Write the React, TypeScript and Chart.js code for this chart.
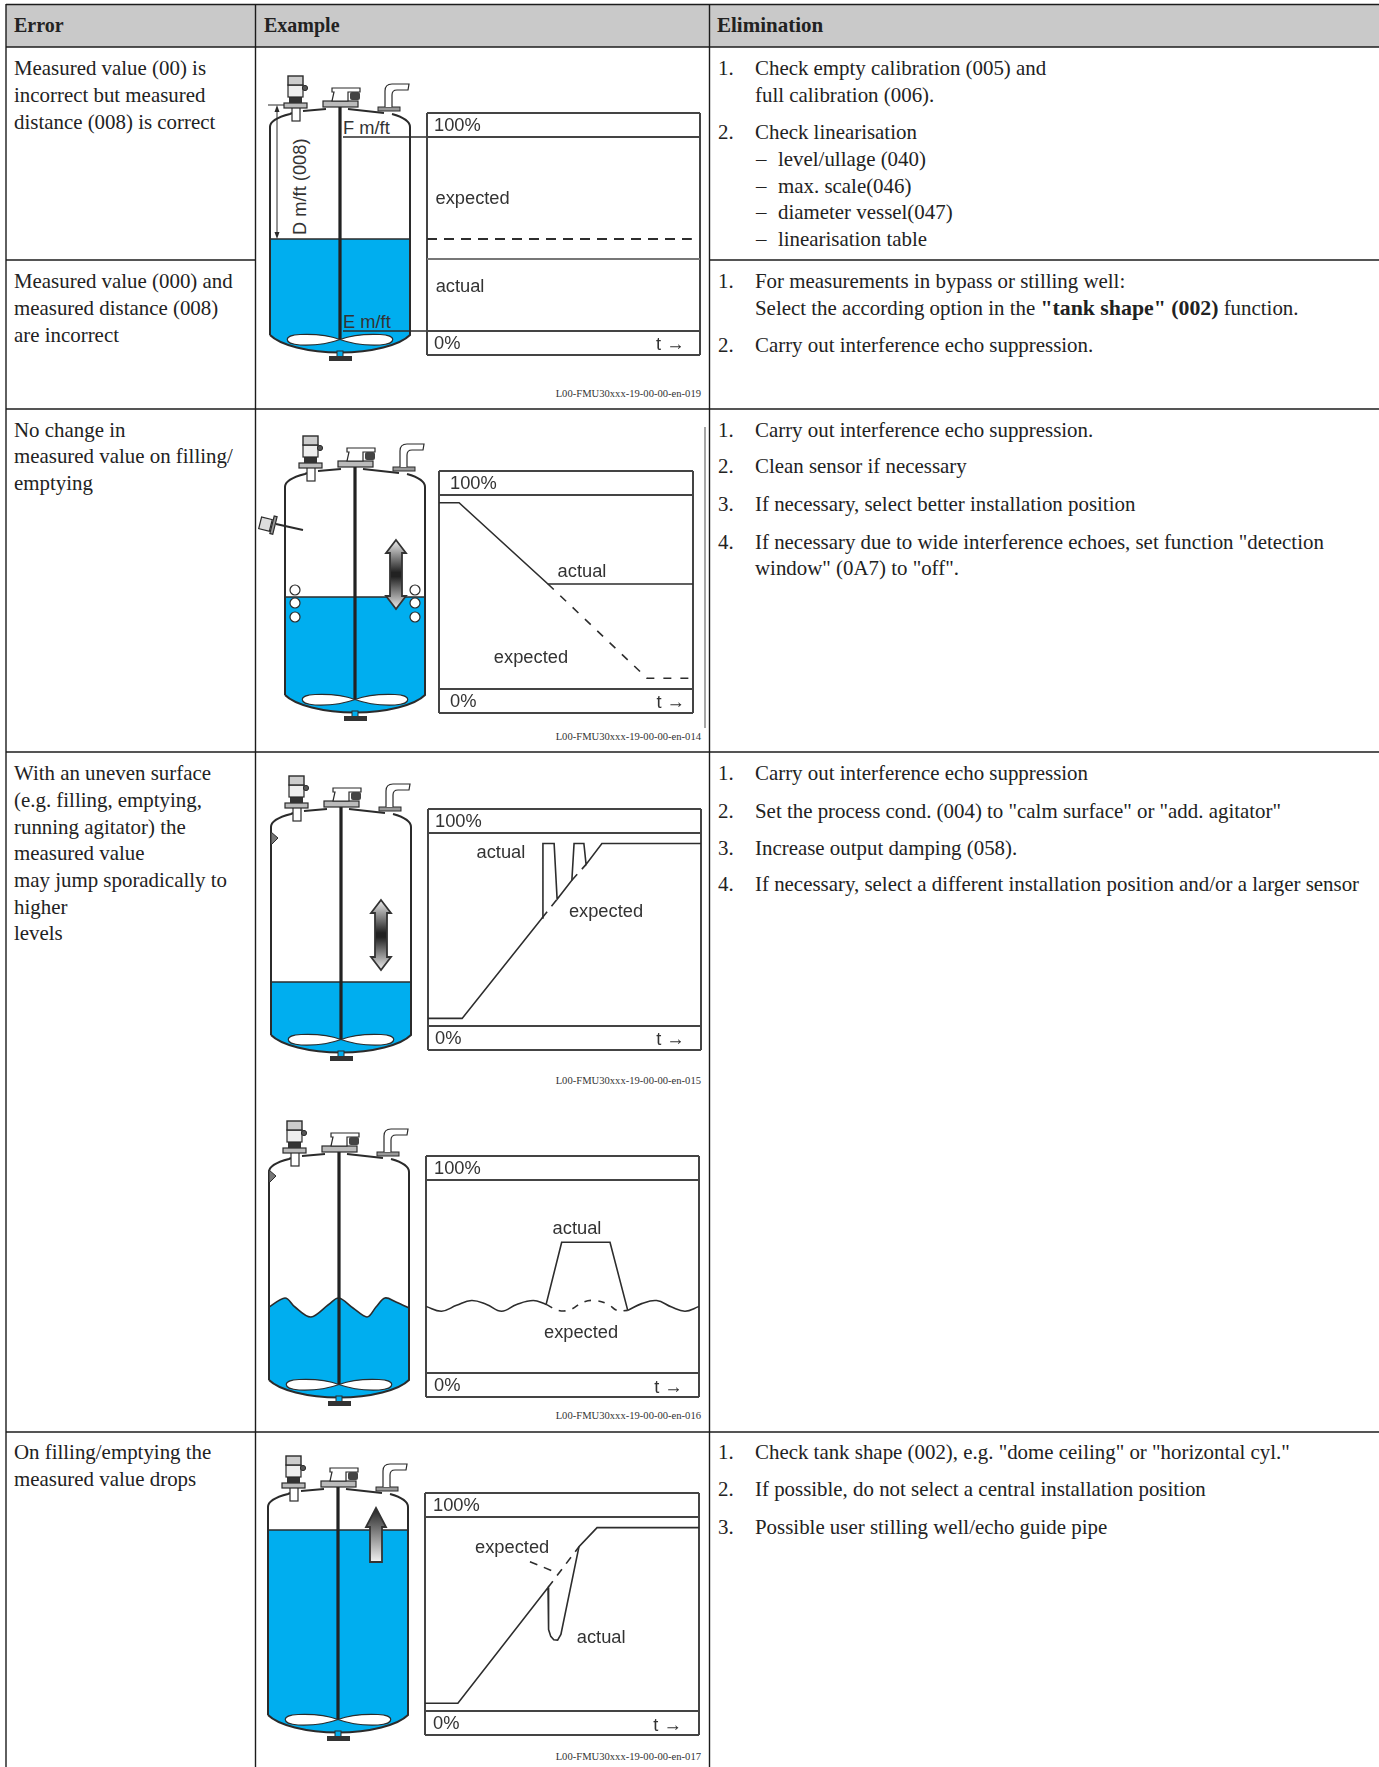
import React, { useEffect, useRef } from "react";
import { Chart, registerables } from "chart.js";

Chart.register(...registerables);

// ---------- chart values (x = % of elapsed time across the plot, y = % level) ----------
const c1Expected = [{ x: 0, y: 47.4 }, { x: 97, y: 47.4 }];
const c1Actual = [{ x: 0, y: 37.1 }, { x: 100, y: 37.1 }];

const c2Actual = [{ x: 0, y: 95.9 }, { x: 7.9, y: 95.9 }, { x: 42.9, y: 54.1 }, { x: 100, y: 54.1 }];
const c2Expected = [{ x: 42.9, y: 54.1 }, { x: 81.9, y: 5.7 }, { x: 84, y: 5.7 }, { x: 100, y: 5.7 }];

const c3Actual = [
  { x: 0, y: 4.1 }, { x: 12.5, y: 4.1 }, { x: 41.8, y: 55.9 }, { x: 42.1, y: 94.4 }, { x: 46.2, y: 94.4 },
  { x: 47.3, y: 65.6 }, { x: 52.7, y: 75.4 }, { x: 53.5, y: 94.4 }, { x: 57.1, y: 94.4 }, { x: 57.9, y: 83.6 },
  { x: 63.7, y: 94.4 }, { x: 100, y: 94.4 },
];
const c3ExpectedA = [{ x: 41.8, y: 55.9 }, { x: 47.3, y: 65.6 }];
const c3ExpectedB = [{ x: 52.7, y: 75.4 }, { x: 57.9, y: 83.6 }];

const c4WaveLeft = [
  { x: 0, y: 34.5 }, { x: 5.7, y: 32.1 }, { x: 11.2, y: 35.1 }, { x: 16.7, y: 37.6 }, { x: 22.2, y: 35.6 },
  { x: 27.7, y: 32.1 }, { x: 33.2, y: 35.6 }, { x: 39.3, y: 37.6 }, { x: 44, y: 35.6 },
];
const c4Spike = [{ x: 44, y: 35.6 }, { x: 49.7, y: 67.7 }, { x: 67.4, y: 67.7 }, { x: 73.9, y: 32.5 }];
const c4WaveRight = [
  { x: 73.9, y: 32.5 }, { x: 79, y: 36 }, { x: 84.5, y: 37.6 }, { x: 90, y: 34.2 }, { x: 94.9, y: 32.1 }, { x: 100, y: 34.5 },
];
const c4Expected = [
  { x: 44, y: 35.6 }, { x: 48.5, y: 32.5 }, { x: 52.7, y: 32.8 }, { x: 57.6, y: 36.8 }, { x: 61.9, y: 37.6 },
  { x: 66.8, y: 35.6 }, { x: 69.9, y: 32.5 }, { x: 73.9, y: 32.5 },
];

const c5Actual = [
  { x: 0, y: 4.1 }, { x: 12, y: 4.1 }, { x: 44.9, y: 63.6 }, { x: 45.1, y: 42 }, { x: 45.9, y: 38.5 }, { x: 47, y: 36.8 },
  { x: 48.4, y: 36.6 }, { x: 49.6, y: 39.5 }, { x: 56.2, y: 84.6 }, { x: 62.8, y: 94.4 }, { x: 100, y: 94.4 },
];
const c5Expected = [{ x: 44.9, y: 63.6 }, { x: 56.2, y: 84.6 }];
const c5Pointer = [{ x: 38.3, y: 76.9 }, { x: 47.1, y: 71.8 }];

const TOP_LABEL = "100%";
const BOTTOM_LABEL = "0%";
const TIME_LABEL = "t →";

// ---------- table text ----------
const headers = ["Error", "Example", "Elimination"];
const errorLines = [
  ["Measured value (00) is", 68], ["incorrect but measured", 95], ["distance (008) is correct", 122],
  ["Measured value (000) and", 281], ["measured distance (008)", 308], ["are incorrect", 335],
  ["No change in", 430], ["measured value on filling/", 456], ["emptying", 483],
  ["With an uneven surface", 773], ["(e.g. filling, emptying,", 800], ["running agitator) the", 827],
  ["measured value", 853], ["may jump sporadically to", 880], ["higher", 907], ["levels", 933],
  ["On filling/emptying the", 1452], ["measured value drops", 1479],
] as [string, number][];
const fixNumbers = [
  ["1.", 68], ["2.", 132], ["1.", 281], ["2.", 345], ["1.", 430], ["2.", 466], ["3.", 504], ["4.", 542],
  ["1.", 773], ["2.", 811], ["3.", 848], ["4.", 884], ["1.", 1452], ["2.", 1489], ["3.", 1527],
] as [string, number][];
const fixLines = [
  ["Check empty calibration (005) and", 68], ["full calibration (006).", 95], ["Check linearisation", 132],
  ["For measurements in bypass or stilling well:", 281],
  ['Select the according option in the **"tank shape" (002)** function.', 308],
  ["Carry out interference echo suppression.", 345],
  ["Carry out interference echo suppression.", 430], ["Clean sensor if necessary", 466],
  ["If necessary, select better installation position", 504],
  ['If necessary due to wide interference echoes, set function "detection', 542],
  ['window" (0A7) to "off".', 568],
  ["Carry out interference echo suppression", 773],
  ['Set the process cond. (004) to "calm surface" or "add. agitator"', 811],
  ["Increase output damping (058).", 848],
  ["If necessary, select a different installation position and/or a larger sensor", 884],
  ['Check tank shape (002), e.g. "dome ceiling" or "horizontal cyl."', 1452],
  ["If possible, do not select a central installation position", 1489],
  ["Possible user stilling well/echo guide pipe", 1527],
] as [string, number][];
const subItems = [
  ["level/ullage (040)", 159], ["max. scale(046)", 186], ["diameter vessel(047)", 212], ["linearisation table", 239],
] as [string, number][];
const captions = [
  ["L00-FMU30xxx-19-00-00-en-019", 394], ["L00-FMU30xxx-19-00-00-en-014", 737], ["L00-FMU30xxx-19-00-00-en-015", 1081],
  ["L00-FMU30xxx-19-00-00-en-016", 1416], ["L00-FMU30xxx-19-00-00-en-017", 1757],
] as [string, number][];

// ---------- look ----------
const INK = "#2b2b2b";
const BOX = "#444444";
const SERIF = '"Liberation Serif", serif';
const SANS = '"Liberation Sans", sans-serif';
const BLUE = "#00AEEF";
const BAND = 12.2;
const PLOT_FONT = 18.3;
const TOP_TICK = 100 + BAND / 2 - 0.8;
const BOTTOM_TICK = -BAND / 2 - 0.6;

const inlineLabels = {
  id: "inlineLabels",
  afterDatasetsDraw(chart: any, _a: any, opts: any) {
    const { ctx, scales } = chart;
    ctx.save();
    ctx.fillStyle = "#333";
    ctx.font = `${PLOT_FONT}px ${SANS}`;
    ctx.textAlign = "center";
    ctx.textBaseline = "middle";
    for (const it of opts.items || []) ctx.fillText(it.text, scales.x.getPixelForValue(it.x), scales.y.getPixelForValue(it.y) + 1.3);
    ctx.restore();
  },
};

const solid = (data: any[], extra: any = {}) => ({ data, borderColor: "#2d2d2d", borderWidth: 1.6, pointRadius: 0, tension: 0, ...extra });
const dashed = (data: any[], extra: any = {}) => solid(data, { borderDash: [8, 7], ...extra });

function Plot({ x, y, w, h, pad = 8, datasets, labels }: any) {
  const ref = useRef<HTMLCanvasElement>(null);
  useEffect(() => {
    const chart = new Chart(ref.current as HTMLCanvasElement, {
      type: "line",
      data: { datasets },
      plugins: [inlineLabels],
      options: {
        animation: false,
        responsive: false,
        parsing: false as any,
        normalized: true,
        layout: { padding: 2 },
        plugins: { legend: { display: false }, tooltip: { enabled: false }, inlineLabels: { items: labels } } as any,
        scales: {
          x: {
            type: "linear", min: 0, max: 100,
            afterBuildTicks: (s: any) => { s.ticks = [{ value: 0 }, { value: 100 }]; },
            afterFit: (s: any) => { s.height = 0; s.paddingLeft = 0; s.paddingRight = 0; s.paddingTop = 0; s.paddingBottom = 0; },
            ticks: { display: false },
            grid: { color: BOX, lineWidth: 2, drawTicks: false },
            border: { display: false },
          },
          y: {
            type: "linear", min: -BAND, max: 100 + BAND,
            afterBuildTicks: (s: any) => {
              s.ticks = [-BAND, BOTTOM_TICK, 0, 100, TOP_TICK, 100 + BAND].map((value) => ({ value }));
            },
            afterFit: (s: any) => { s.width = 0; s.paddingTop = 0; s.paddingBottom = 0; s.paddingLeft = 0; s.paddingRight = 0; },
            ticks: {
              mirror: true, padding: pad, autoSkip: false, color: "#333",
              font: { family: "Liberation Sans", size: PLOT_FONT },
              callback: (v: any) => (v === TOP_TICK ? TOP_LABEL : v === BOTTOM_TICK ? BOTTOM_LABEL : ""),
            },
            grid: {
              drawTicks: false, lineWidth: 2,
              color: (c: any) => (c.tick.value === BOTTOM_TICK || c.tick.value === TOP_TICK ? "transparent" : BOX),
            },
            border: { display: false },
          },
        },
      } as any,
    });
    return () => chart.destroy();
  }, []);
  return (
    <canvas
      ref={ref}
      width={w + 4}
      height={h + 4}
      style={{ position: "absolute", left: x - 2, top: y - 2, width: w + 4, height: h + 4 }}
    />
  );
}

function smooth(pts: number[][]) {
  let d = `M${pts[0][0]},${pts[0][1]}`;
  for (let i = 0; i < pts.length - 1; i++) {
    const p0 = pts[Math.max(i - 1, 0)], p1 = pts[i], p2 = pts[i + 1], p3 = pts[Math.min(i + 2, pts.length - 1)];
    d += ` C${p1[0] + (p2[0] - p0[0]) / 6},${p1[1] + (p2[1] - p0[1]) / 6} ${p2[0] - (p3[0] - p1[0]) / 6},${p2[1] - (p3[1] - p1[1]) / 6} ${p2[0]},${p2[1]}`;
  }
  return d;
}
const waveSurface = [[-70, 137], [-54, 128], [-44, 137], [-28, 147], [-11, 135], [0, 128], [14, 138], [28, 147], [37, 137], [46, 128], [57, 132], [70, 138]];
const BOTTOM = "C60,220 32,227.5 0,227.5 C-32,227.5 -60,220 -70,210";

function DoubleArrow({ ax, y0, y1, id }: any) {
  return (
    <g>
      <defs>
        <linearGradient id={id} x1="0" x2="0" y1="0" y2="1">
          <stop offset="0" stopColor="#eee" />
          <stop offset="0.47" stopColor="#222" />
          <stop offset="0.53" stopColor="#222" />
          <stop offset="1" stopColor="#eee" />
        </linearGradient>
      </defs>
      <path
        d={`M${ax},${y0} L${ax + 10},${y0 + 13} L${ax + 6},${y0 + 13} L${ax + 6},${y1 - 13} L${ax + 10},${y1 - 13} L${ax},${y1} L${ax - 10},${y1 - 13} L${ax - 6},${y1 - 13} L${ax - 6},${y0 + 13} L${ax - 10},${y0 + 13} Z`}
        fill={`url(#${id})`} stroke="#333" strokeWidth="1.8"
      />
    </g>
  );
}

function Tank({ cx, s, level, wave, dimple, arrow, floats, idx }: any) {
  const top = wave ? "" : `M-70,${level} L70,${level}`;
  const water = wave
    ? `${smooth(waveSurface)} L70,210 ${BOTTOM} Z`
    : `M-70,${level} L70,${level} L70,210 ${BOTTOM} Z`;
  return (
    <g transform={`translate(${cx},${s})`}>
      <path d={water} fill={BLUE} />
      {wave ? <path d={smooth(waveSurface)} fill="none" stroke={INK} strokeWidth="1.6" /> : <path d={top} stroke={INK} strokeWidth="1.6" />}
      {/* shell */}
      <path d={`M-70,210 L-70,2 Q-70,-6 -50,-11 L-48,-12 M-37,-14 L-14,-16 M8,-16 L44,-12 M52,-11 Q70,-6 70,2 L70,210 ${BOTTOM}`}
        fill="none" stroke={INK} strokeWidth="2" />
      {/* rod */}
      <rect x="-1.6" y="-18" width="3.2" height="233" fill="#222" />
      {/* agitator */}
      <path d="M0,214.5 C-12,219 -28,220.5 -40,220 C-57,219 -57,210 -40,209.5 C-28,209 -12,210 0,214.5 Z" fill="#fff" stroke={INK} strokeWidth="1.2" />
      <path d="M0,214.5 C12,219 28,220.5 40,220 C57,219 57,210 40,209.5 C28,209 12,210 0,214.5 Z" fill="#fff" stroke={INK} strokeWidth="1.2" />
      {/* drain */}
      <rect x="-3" y="226" width="6" height="6" fill={BLUE} stroke={INK} strokeWidth="1" />
      <rect x="-11" y="231" width="23" height="5" fill="#333" />
      {/* left nozzle and sensor */}
      <rect x="-48" y="-18" width="8" height="14" fill="#fff" stroke={INK} strokeWidth="1.2" />
      <rect x="-56" y="-22" width="23" height="5" fill="#bbb" stroke={INK} strokeWidth="1.2" />
      <rect x="-51" y="-28" width="13" height="6" fill="#333" />
      <rect x="-52" y="-40" width="15" height="12" fill="#eee" stroke={INK} strokeWidth="1.2" />
      <rect x="-52" y="-49" width="15" height="9" fill="#ccc" stroke={INK} strokeWidth="1.4" />
      <circle cx="-35" cy="-37" r="2.6" fill="#555" stroke={INK} strokeWidth="1" />
      {/* centre flange */}
      <rect x="-17" y="-24" width="35" height="6" fill="#bbb" stroke={INK} strokeWidth="1.2" />
      <path d="M-8,-24 L-6,-33 L-8,-33 L-8,-37 L20,-37 L20,-33 L8,-33 L8,-24 Z" fill="#fff" stroke={INK} strokeWidth="1.2" />
      <rect x="10" y="-33" width="10" height="8" rx="2" fill="#444" />
      {/* right nozzle */}
      <rect x="38" y="-18" width="22" height="4" fill="#999" stroke={INK} strokeWidth="1" />
      <path d="M45,-18 L45,-34 Q45,-41 52,-41 L69,-41 L68,-35 L57,-35 Q52,-35 52,-30 L52,-18" fill="#fff" stroke={INK} strokeWidth="1.2" />
      {dimple != null && <path d={`M-70,${dimple} L-63,${dimple + 6} L-70,${dimple + 13} Z`} fill="#777" stroke={INK} strokeWidth="1" />}
      {floats && [105, 118, 132].map((yy) => (
        <g key={yy}>
          <circle cx="-60" cy={yy} r="5" fill="#fff" stroke={INK} strokeWidth="1.2" />
          <circle cx="60" cy={yy} r="5" fill="#fff" stroke={INK} strokeWidth="1.2" />
        </g>
      ))}
      {arrow === "double" && idx === 2 && <DoubleArrow ax={41} y0={55} y1={124} id="arr2" />}
      {arrow === "double" && idx === 3 && <DoubleArrow ax={40} y0={75} y1={145} id="arr3" />}
      {arrow === "up" && (
        <g>
          <defs>
            <linearGradient id="arr5" x1="0" x2="0" y1="0" y2="1">
              <stop offset="0" stopColor="#222" />
              <stop offset="1" stopColor="#f2f2f2" />
            </linearGradient>
          </defs>
          <path d="M38,3 L48,22 L44,22 L44,57 L32,57 L32,22 L28,22 Z" fill="url(#arr5)" stroke="#333" strokeWidth="1.8" />
        </g>
      )}
    </g>
  );
}

const lineStyle = (y: number): React.CSSProperties => ({
  position: "absolute", top: y - 13, height: 26, lineHeight: "26px", whiteSpace: "nowrap",
});

function Rich({ text }: { text: string }) {
  const parts = text.split("**");
  return <>{parts.map((p, i) => (i % 2 ? <b key={i} style={{ fontSize: 21.8 }}>{p}</b> : <span key={i}>{p}</span>))}</>;
}

export default function App() {
  useEffect(() => {
    document.body.style.margin = "0";
  }, []);
  const rows = [47, 409, 752, 1432];
  return (
    <div style={{ position: "absolute", left: 0, top: 0, width: 1379, height: 1767, overflow: "hidden", background: "#fff", fontFamily: SERIF, fontSize: 20.9, color: "#222" }}>
      <svg width="1379" height="1767" style={{ position: "absolute", left: 0, top: 0 }}>
        <rect x="6" y="5" width="1373" height="42" fill="#c9c9c9" />
        <g stroke="#1c1c1c" strokeWidth="1.4">
          <line x1="6" y1="4.5" x2="1379" y2="4.5" />
          {rows.map((r) => <line key={r} x1="6" y1={r} x2="1379" y2={r} />)}
          <line x1="6" y1="260" x2="256" y2="260" />
          <line x1="710" y1="260" x2="1379" y2="260" />
          <line x1="6" y1="4" x2="6" y2="1767" />
          <line x1="255.5" y1="4" x2="255.5" y2="1767" />
          <line x1="709.5" y1="4" x2="709.5" y2="1767" />
        </g>
        <line x1="705" y1="427" x2="705" y2="728" stroke="#888" strokeWidth="1.5" />

        <Tank cx={340} s={125} level={114} idx={1} />
        <Tank cx={355} s={485} level={112} arrow="double" floats idx={2} />
        <Tank cx={341} s={825} level={157} arrow="double" dimple={7} idx={3} />
        <Tank cx={339} s={1170} wave dimple={0} idx={4} />
        <Tank cx={338} s={1505} level={25} arrow="up" idx={5} />

        {/* side probe on the second tank */}
        <g stroke={INK} fill="#ddd" strokeWidth="1.2">
          <line x1="276" y1="524" x2="303" y2="530" strokeWidth="2" />
          <rect x="260" y="518" width="11" height="12" transform="rotate(14 265 524)" />
          <rect x="272" y="516" width="3" height="18" transform="rotate(14 273 525)" fill="#999" />
        </g>

        {/* level references of the first tank */}
        <g stroke={INK} strokeWidth="1.6">
          <line x1="343" y1="137" x2="427" y2="137" />
          <line x1="343" y1="331" x2="427" y2="331" />
          <line x1="268" y1="105" x2="284" y2="105" strokeWidth="1" />
          <line x1="277" y1="108" x2="277" y2="236" strokeWidth="1" />
        </g>
        <path d="M277,105 L274.5,112 L279.5,112 Z M277,239 L274.5,232 L279.5,232 Z" fill={INK} />
        <g fontFamily={SANS} fontSize={PLOT_FONT} fill="#333">
          <text x="343" y="134">F m/ft</text>
          <text x="343" y="328">E m/ft</text>
          <text transform="translate(306,235) rotate(-90)">D m/ft (008)</text>
        </g>
      </svg>

      <Plot x={427} y={113} w={273} h={242} pad={7} datasets={[
        dashed(c1Expected, { borderDash: [10, 7], borderWidth: 2 }),
        solid(c1Actual, { borderColor: "#777", borderWidth: 2 }),
      ]} labels={[
        { text: "expected", x: 16.7, y: 68.6 },
        { text: "actual", x: 12.1, y: 23.7 },
        { text: TIME_LABEL, x: 89.1, y: -6.2 },
      ]} />
      <Plot x={439} y={471} w={254} h={242} pad={11} datasets={[
        solid(c2Actual), dashed(c2Expected, { borderDash: [8, 9] }),
      ]} labels={[
        { text: "actual", x: 56.3, y: 60.8 },
        { text: "expected", x: 36.2, y: 17 },
        { text: TIME_LABEL, x: 91.2, y: -6.2 },
      ]} />
      <Plot x={428} y={809} w={273} h={241} pad={7} datasets={[
        solid(c3Actual), dashed(c3ExpectedA), dashed(c3ExpectedB),
      ]} labels={[
        { text: "actual", x: 26.7, y: 90.3 },
        { text: "expected", x: 65.2, y: 59.5 },
        { text: TIME_LABEL, x: 88.8, y: -6.2 },
      ]} />
      <Plot x={426} y={1156} w={273} h={241} datasets={[
        solid(c4WaveLeft, { tension: 0.4 }), solid(c4Spike), solid(c4WaveRight, { tension: 0.4 }),
        dashed(c4Expected, { tension: 0.4, borderDash: [7, 7] }),
      ]} labels={[
        { text: "actual", x: 55.3, y: 75.3 },
        { text: "expected", x: 56.8, y: 21.6 },
        { text: TIME_LABEL, x: 88.8, y: -6.7 },
      ]} />
      <Plot x={425} y={1493} w={274} h={242} datasets={[
        solid(c5Actual), dashed(c5Expected), dashed(c5Pointer),
      ]} labels={[
        { text: "expected", x: 31.8, y: 84.6 },
        { text: "actual", x: 64.3, y: 38.5 },
        { text: TIME_LABEL, x: 88.5, y: -6.7 },
      ]} />

      {headers.map((h, i) => (
        <div key={h} style={{ ...lineStyle(25), left: [14, 264, 717][i], fontWeight: "bold", fontSize: i === 2 ? 21 : 20 }}>{h}</div>
      ))}
      {errorLines.map(([t, y], i) => <div key={i} style={{ ...lineStyle(y), left: 14 }}>{t}</div>)}
      {fixNumbers.map(([t, y], i) => <div key={i} style={{ ...lineStyle(y), left: 718 }}>{t}</div>)}
      {fixLines.map(([t, y], i) => <div key={i} style={{ ...lineStyle(y), left: 755 }}><Rich text={t} /></div>)}
      {subItems.map(([t, y], i) => (
        <React.Fragment key={i}>
          <div style={{ ...lineStyle(y), left: 756 }}>–</div>
          <div style={{ ...lineStyle(y), left: 778 }}>{t}</div>
        </React.Fragment>
      ))}
      {captions.map(([t, y], i) => (
        <div key={i} style={{ position: "absolute", top: y - 8, lineHeight: "16px", right: 1379 - 701, fontSize: 10.6, whiteSpace: "nowrap", color: "#333" }}>{t}</div>
      ))}
    </div>
  );
}
